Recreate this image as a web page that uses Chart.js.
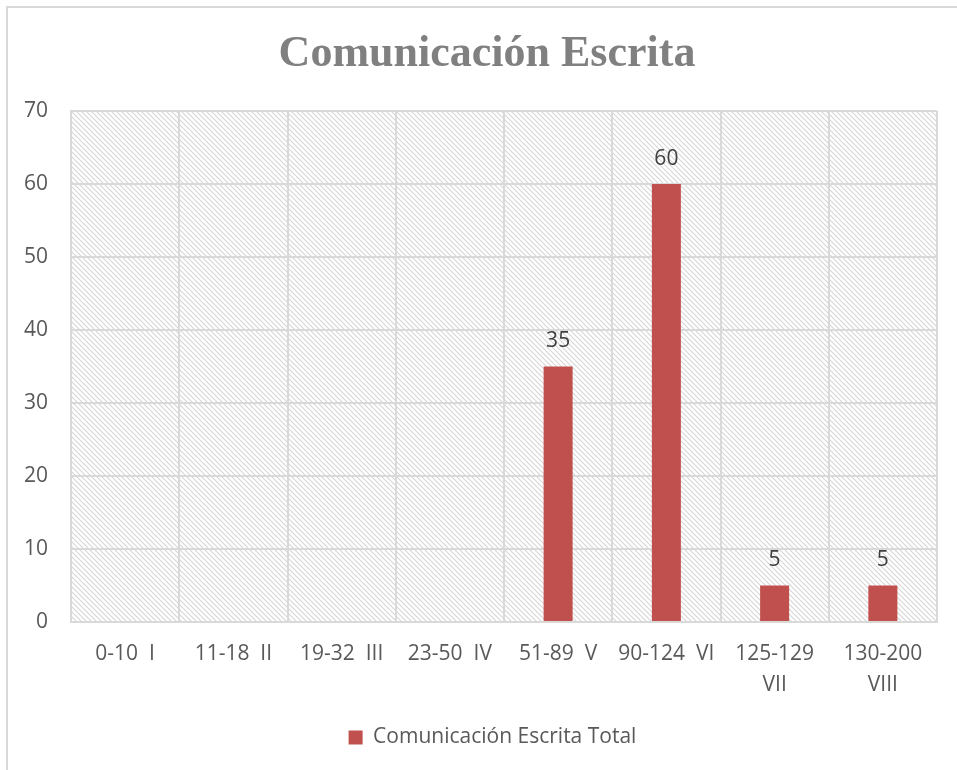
<!DOCTYPE html>
<html lang="es">
<head>
<meta charset="utf-8">
<title>Comunicación Escrita</title>
<script src="https://cdn.jsdelivr.net/npm/chart.js@4.4.1/dist/chart.umd.min.js"></script>
<style>
    html, body { margin: 0; padding: 0; background: #fff; overflow: hidden; }
    #wrap { position: relative; width: 957px; height: 770px; }
    #frame {
        position: absolute; left: 6px; top: 6px; width: 1000px; height: 1000px;
        border-left: 2px solid #d9d9d9; border-top: 2px solid #d9d9d9;
    }
    canvas { position: absolute; left: 0; top: 0; }
</style>
</head>
<body>
<div id="wrap">
    <div id="frame"></div>
    <canvas id="chart" width="957" height="770"></canvas>
</div>
<script>
// Rangos de puntaje con su nivel
const categories = [
    '0-10  I', '11-18  II', '19-32  III', '23-50  IV',
    '51-89  V', '90-124  VI', ['125-129', 'VII'], ['130-200', 'VIII']
];
// Totales por nivel (sin valor en los primeros cuatro)
const totals = [null, null, null, null, 35, 60, 5, 5];
const yTicks = [0, 10, 20, 30, 40, 50, 60, 70];

const TITLE = 'Comunicación Escrita';
const TEXT = '#595959';
const GRID = '#d9d9d9';

// Fondo rayado del área de trazado
function makeHatch(ctx) {
    const c = document.createElement('canvas');
    c.width = 5; c.height = 5;
    const p = c.getContext('2d');
    p.fillStyle = '#ffffff';
    p.fillRect(0, 0, 5, 5);
    p.strokeStyle = '#d6d6d6';
    p.lineWidth = 1.1;
    p.beginPath();
    p.moveTo(-1, -1); p.lineTo(6, 6);
    p.moveTo(-1, 4); p.lineTo(1, 6);
    p.moveTo(4, -1); p.lineTo(6, 1);
    p.stroke();
    return ctx.createPattern(c, 'repeat');
}

const hatchBackground = {
    id: 'hatchBackground',
    beforeDraw(chart) {
        const { ctx, chartArea: a } = chart;
        ctx.save();
        ctx.fillStyle = makeHatch(ctx);
        ctx.fillRect(a.left, a.top, a.right - a.left, a.bottom - a.top);
        ctx.restore();
    }
};

// La leyenda va centrada algo más a la derecha que el lienzo
const legendShift = {
    id: 'legendShift',
    afterLayout(chart) {
        if (!chart.legend) return;
        chart.legend.left += 24;
        chart.legend.right += 24;
    }
};

// Título del gráfico, en el espacio reservado arriba
const chartTitle = {
    id: 'chartTitle',
    afterDraw(chart) {
        const { ctx } = chart;
        ctx.save();
        ctx.font = 'bold 44px "Liberation Serif"';
        ctx.fillStyle = '#808080';
        ctx.textAlign = 'center';
        ctx.textBaseline = 'middle';
        ctx.fillText(TITLE, 487, 55);
        ctx.restore();
    }
};

// Etiquetas de valor sobre cada barra
const valueLabels = {
    id: 'valueLabels',
    afterDatasetsDraw(chart) {
        const { ctx } = chart;
        const meta = chart.getDatasetMeta(0);
        ctx.save();
        ctx.font = '21px "Open Sans"';
        ctx.fillStyle = '#404040';
        ctx.textAlign = 'center';
        ctx.textBaseline = 'middle';
        meta.data.forEach((bar, i) => {
            const v = totals[i];
            if (v === null) return;
            ctx.fillText(String(v), bar.x, bar.y - 25);
        });
        ctx.restore();
    }
};

const ctx = document.getElementById('chart').getContext('2d');
new Chart(ctx, {
    type: 'bar',
    data: {
        labels: categories,
        datasets: [{
            label: 'Comunicación Escrita Total',
            data: totals,
            backgroundColor: '#c0504d',
            borderWidth: 0,
            barPercentage: 0.268,
            categoryPercentage: 1
        }]
    },
    options: {
        responsive: false,
        animation: false,
        layout: { padding: { left: 0, right: 20, top: 111, bottom: 12 } },
        plugins: {
            title: { display: false },
            legend: {
                position: 'bottom',
                labels: {
                    color: TEXT,
                    font: { family: '"Open Sans"', size: 21 },
                    boxWidth: 14,
                    boxHeight: 14,
                    padding: 10
                }
            },
            tooltip: { enabled: false }
        },
        scales: {
            x: {
                afterFit(scale) { scale.height = 95; },
                grid: { color: GRID, lineWidth: 2, drawTicks: false, offset: true },
                border: { color: GRID, width: 2 },
                ticks: {
                    color: TEXT,
                    font: { family: '"Open Sans"', size: 21, lineHeight: 1.45 },
                    padding: 17,
                    maxRotation: 0,
                    autoSkip: false
                }
            },
            y: {
                min: 0,
                max: 70,
                afterBuildTicks(scale) {
                    scale.ticks = yTicks.map(v => ({ value: v }));
                },
                afterFit(scale) { scale.width = 71; },
                grid: { color: GRID, lineWidth: 2, drawTicks: false },
                border: { color: GRID, width: 2 },
                ticks: {
                    color: TEXT,
                    font: { family: '"Open Sans"', size: 21 },
                    padding: 23
                }
            }
        }
    },
    plugins: [hatchBackground, legendShift, valueLabels, chartTitle]
});
</script>
</body>
</html>
